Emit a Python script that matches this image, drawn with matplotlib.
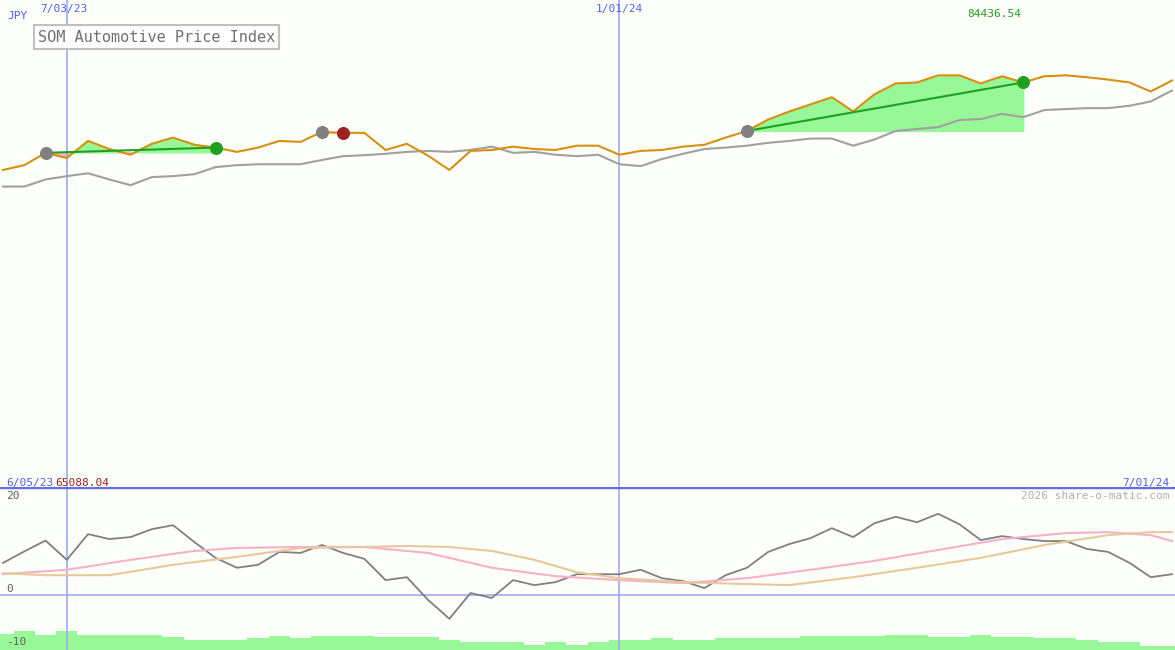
import numpy as np
import matplotlib.pyplot as plt
import pandas as pd

# weekly price series
start = pd.Timestamp('2023-06-12')
price = [65100, 66100, 68700, 67600, 71200, 69500, 68300, 70600, 71900, 70400, 69800, 68900,
         69800, 71200, 71000, 73100, 72900, 72900, 69300, 70600, 68100, 65100, 69100, 69300,
         70000, 69500, 69300, 70200, 70200, 68300, 69100, 69300, 70000, 70400, 71900, 73300,
         75700, 77400, 78900, 80400, 77400, 81000, 83300, 83500, 85000, 85000, 83300, 84800,
         83500, 84800, 85000, 84600, 84100, 83500, 81600, 83900]
index = [61600, 61600, 63100, 63800, 64400, 63100, 61900, 63600, 63800, 64200, 65700, 66100,
         66300, 66300, 66300, 67200, 68000, 68200, 68500, 68900, 69100, 68900, 69300, 70000,
         68700, 68900, 68300, 68000, 68300, 66300, 65900, 67400, 68500, 69500, 69800, 70200,
         70800, 71200, 71700, 71700, 70200, 71500, 73300, 73700, 74100, 75600, 75800, 76900,
         76200, 77700, 77900, 78100, 78100, 78600, 79500, 81800]
momentum = [6.5, 8.8, 11.0, 7.1, 12.3, 11.3, 11.7, 13.3, 14.1, 10.7, 7.5, 5.5, 6.1, 8.7, 8.5,
            10.1, 8.5, 7.3, 3.0, 3.6, -1.0, -4.8, 0.4, -0.6, 3.0, 2.0, 2.6, 4.2, 4.2, 4.2,
            5.1, 3.4, 2.8, 1.4, 4.0, 5.5, 8.7, 10.3, 11.5, 13.5, 11.7, 14.5, 15.8, 14.7, 16.4,
            14.3, 11.1, 11.9, 11.3, 10.9, 10.9, 9.3, 8.7, 6.5, 3.6, 4.2]
# smoothed averages, sparse (week, value)
ma_fast_w = [0, 3, 6, 9, 11, 14, 17, 20, 23, 26, 29, 32, 35, 38, 41, 44, 47, 50, 52, 54, 55]
ma_fast = [4.2, 5.1, 7.1, 8.9, 9.5, 9.7, 9.7, 8.5, 5.5, 3.8, 3.0, 2.4, 3.4, 5.1, 6.9, 9.1,
           11.3, 12.5, 12.7, 12.1, 10.9]
ma_slow_w = [0, 2, 5, 8, 11, 14, 17, 19, 21, 23, 25, 27, 29, 32, 35, 37, 40, 43, 46, 49, 52, 54, 55]
ma_slow = [4.4, 4.0, 4.0, 6.1, 7.7, 9.5, 9.7, 9.9, 9.7, 8.9, 7.1, 4.6, 3.4, 2.6, 2.2, 2.0,
           3.6, 5.5, 7.5, 10.1, 12.1, 12.7, 12.7]
volume = [16, 19, 15, 19, 15, 15, 15, 15, 13, 10, 10, 10, 12, 14, 12, 14, 14, 14, 13, 13,
          13, 10, 8, 8, 8, 5, 8, 5, 8, 10, 10, 12, 10, 10, 12, 12, 12, 12, 14, 14, 14, 14,
          15, 15, 13, 13, 15, 13, 13, 12, 12, 10, 8, 8, 4, 4]
trades = [(2, 10), (35, 48)]  # (entry week, exit week)

dates = pd.date_range(start, periods=len(price), freq='7D')

fig = plt.figure(figsize=(11.75, 6.5), dpi=100)
fig.patch.set_facecolor('white')
ax = fig.add_axes([0, 1 - 487 / 650, 1, 487 / 650])
ax2 = fig.add_axes([0, 0, 1, 163 / 650])
for a in (ax, ax2):
    a.set_facecolor('#fdfffa')
    a.set_xlim(dates[0] - pd.Timedelta(days=1), dates[-1] + pd.Timedelta(days=1))
    for s in a.spines.values():
        s.set_visible(False)
    a.set_xticks([])
    a.set_yticks([])
    for d in ['2023-07-03', '2024-01-01']:
        a.axvline(pd.Timestamp(d), color='#a0a8f0', lw=1.2)

ax.set_ylim(65088.04 - (487 - 170) * 210.3, 84436.54 + 78 * 210.3)
font = dict(family='DejaVu Sans Mono', fontsize=8)

# trades
for e, x in trades:
    base = price[e]
    seg = slice(e, x + 1)
    pv = np.array(price[seg])
    ax.fill_between(dates[seg], base, pv, where=pv >= base, color='#98f898', interpolate=True)
    ax.fill_between(dates[seg], base, pv, where=pv < base, color='#f8b8c0', interpolate=True)
    ax.plot([dates[e], dates[x]], [price[e], price[x]], color='#20a020', lw=1.5, zorder=4)
    ax.scatter([dates[e]], [price[e]], s=70, color='#808080', zorder=5)
    ax.scatter([dates[x]], [price[x]], s=70, color='#20a020', zorder=5)
ax.fill_between(dates[15:17], price[15], np.array(price[15:17]), color='#f8b8c0')
ax.scatter([dates[15]], [price[15]], s=70, color='#808080', zorder=5)
ax.scatter([dates[16]], [price[16]], s=70, color='#a02020', zorder=5)

ax.plot(dates, index, color='#a0a0a0', lw=1.5)
ax.plot(dates, price, color='#d89010', lw=1.5)

ax.text(0.006, 0.962, 'JPY', transform=ax.transAxes, color='#5060f0', **font)
ax.text(64 / 1175, 0.992, '7/03/23', transform=ax.transAxes, color='#5060f0', ha='center', va='top', **font)
ax.text(619 / 1175, 0.992, '1/01/24', transform=ax.transAxes, color='#5060f0', ha='center', va='top', **font)
ax.text(994 / 1175, 0.965, '84436.54', transform=ax.transAxes, color='#20a020', ha='center', **font)
ax.text(38 / 1175, 1 - 37 / 487, 'SOM Automotive Price Index', transform=ax.transAxes,
        color='#707070', family='DejaVu Sans Mono', fontsize=11, va='center',
        bbox=dict(facecolor='white', edgecolor='#c0c0c0', lw=1.5, pad=3))
ax.text(0.005, 0.003, '6/05/23', transform=ax.transAxes, color='#5060f0', **font)
ax.text(55 / 1175, 0.003, '65088.04', transform=ax.transAxes, color='#a02020', **font)
ax.text(0.995, 0.003, '7/01/24', transform=ax.transAxes, color='#5060f0', ha='right', **font)

# lower panel
ax2.set_ylim((595 - 650) / 4.95, (595 - 487) / 4.95)
ax2.axhline((595 - 487) / 4.95, color='#6070e0', lw=2.5)
ax2.axhline(0, color='#a0a8f0', lw=1.2)
vb = (595 - 650) / 4.95
ax2.bar(dates, [v / 4.95 for v in volume], bottom=vb, width=7, color='#98f898', align='center')
ax2.plot(dates, momentum, color='#808080', lw=1.3)
ax2.plot([dates[0] + pd.Timedelta(weeks=w) for w in ma_fast_w], ma_fast, color='#f8b0c8', lw=1.5)
ax2.plot([dates[0] + pd.Timedelta(weeks=w) for w in ma_slow_w], ma_slow, color='#e8c898', lw=1.5)
yt = ax2.get_yaxis_transform()
ax2.text(0.005, 20, '20', transform=yt, color='#606060', va='center', **font)
ax2.text(0.005, 0.3, '0', transform=yt, color='#606060', va='bottom', **font)
ax2.text(0.005, -9.5, '-10', transform=yt, color='#606060', va='center', **font)
ax2.text(0.995, 20, '2026 share-o-matic.com', transform=yt,
         color='#b0b0b0', ha='right', va='center', **font)

fig.savefig('out.png', dpi=100, facecolor='white')
